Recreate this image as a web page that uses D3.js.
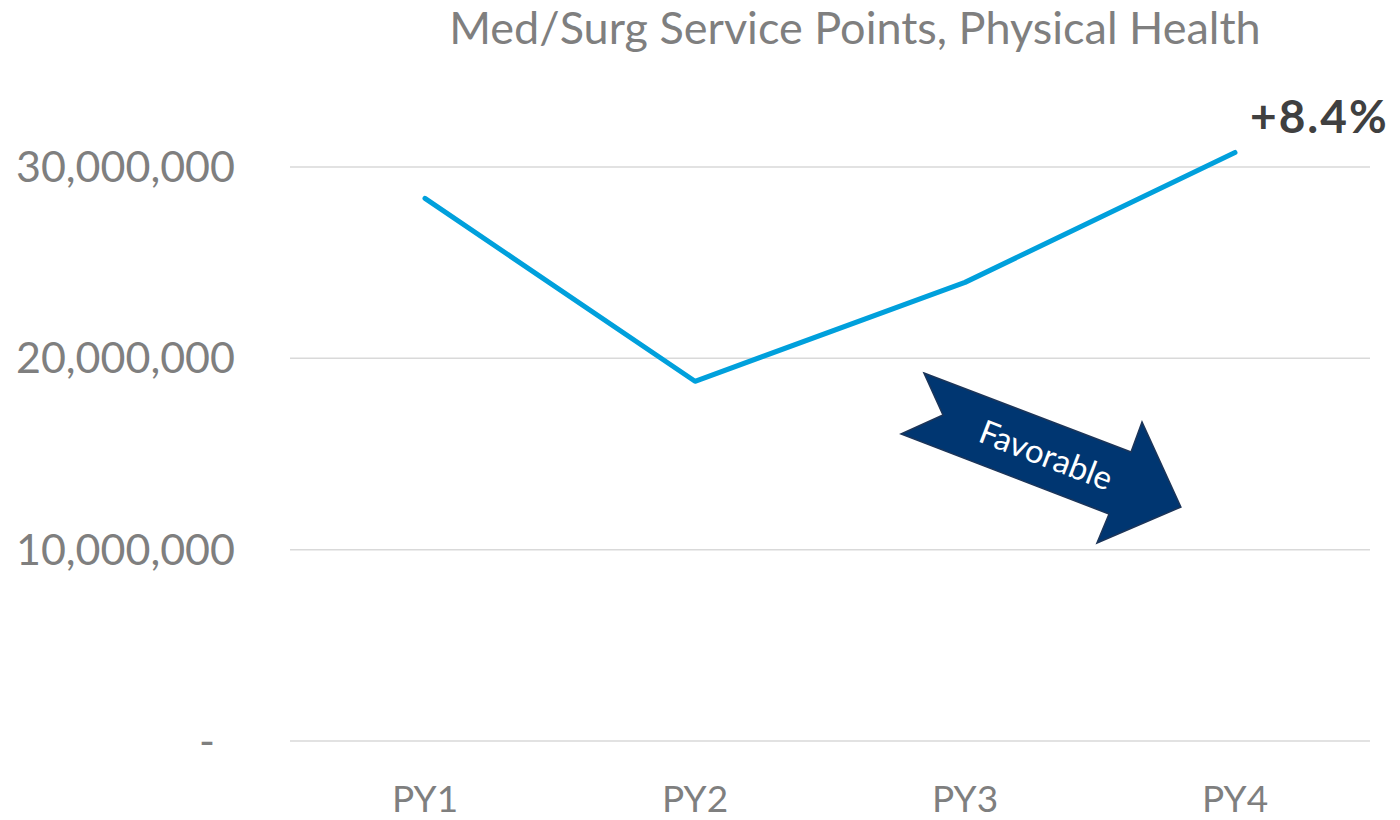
<!DOCTYPE html>
<html>
<head>
<meta charset="utf-8">
<script src="https://cdn.jsdelivr.net/npm/d3@7"></script>
<style>
  html, body { margin: 0; padding: 0; background: #ffffff; }
  svg { display: block; }
</style>
</head>
<body>
<svg id="chart" width="1400" height="820"></svg>
<script>
const categories = ["PY1", "PY2", "PY3", "PY4"];
const values = [28360000, 18800000, 23970000, 30760000];
const yTicks = [0, 10000000, 20000000, 30000000];
const titleText = "Med/Surg Service Points, Physical Health";
const changeLabel = "+8.4%";
const arrowLabel = "Favorable";

const svg = d3.select("#chart");
const font = "Lato, 'Open Sans', sans-serif";
const gray = "#7f7f7f";

const x = d3.scaleBand().domain(categories).range([290, 1370]);
const y = d3.scaleLinear().domain([0, 30000000]).range([741, 167]);

// gridlines
svg.append("g").selectAll("line").data(yTicks).join("line")
  .attr("x1", 290).attr("x2", 1370)
  .attr("y1", d => y(d)).attr("y2", d => y(d))
  .attr("stroke", "#d9d9d9").attr("stroke-width", 1.5);

// y labels
svg.append("g").selectAll("text").data(yTicks).join("text")
  .attr("x", d => d === 0 ? 215 : 235)
  .attr("y", d => y(d) + 15)
  .attr("text-anchor", "end")
  .attr("font-family", font).attr("font-size", 43)
  .attr("fill", gray)
  .text(d => d === 0 ? "-" : d3.format(",")(d));

// x labels
svg.append("g").selectAll("text").data(categories).join("text")
  .attr("x", d => x(d) + x.bandwidth() / 2)
  .attr("y", 812)
  .attr("text-anchor", "middle")
  .attr("font-family", font).attr("font-size", 37)
  .attr("fill", gray)
  .text(d => d);

// line
const line = d3.line()
  .x((d, i) => x(categories[i]) + x.bandwidth() / 2)
  .y(d => y(d));
svg.append("path").datum(values)
  .attr("d", line)
  .attr("fill", "none")
  .attr("stroke", "#00a0dc")
  .attr("stroke-width", 5)
  .attr("stroke-linecap", "round")
  .attr("stroke-linejoin", "round");

// title
svg.append("text")
  .attr("x", 855).attr("y", 44)
  .attr("text-anchor", "middle")
  .attr("font-family", font).attr("font-size", 45)
  .attr("fill", gray)
  .text(titleText);

// change label
svg.append("text")
  .attr("x", 1250).attr("y", 133)
  .attr("font-family", font).attr("font-size", 46).attr("font-weight", "bold")
  .attr("letter-spacing", 2)
  .attr("fill", "#404040")
  .text(changeLabel);

// Favorable arrow (annotation shape)
const arrowPts = [
  [-139.5, -39.6], [82.1, -40.1], [81.6, -72.1], [148.4, -6.6],
  [82.9, 57.1], [83.8, 25.7], [-139.1, 25.5], [-106.7, -7.2]
];
const g = svg.append("g").attr("transform", "translate(1040,460) rotate(21)");
g.append("path")
  .attr("d", d3.line()(arrowPts) + "Z")
  .attr("fill", "#003671")
  .attr("stroke", "#1c3559")
  .attr("stroke-width", 1.5);
g.append("text")
  .attr("x", 4).attr("y", 5)
  .attr("text-anchor", "middle")
  .attr("font-family", font).attr("font-size", 33)
  .attr("fill", "#ffffff")
  .text(arrowLabel);
</script>
</body>
</html>
